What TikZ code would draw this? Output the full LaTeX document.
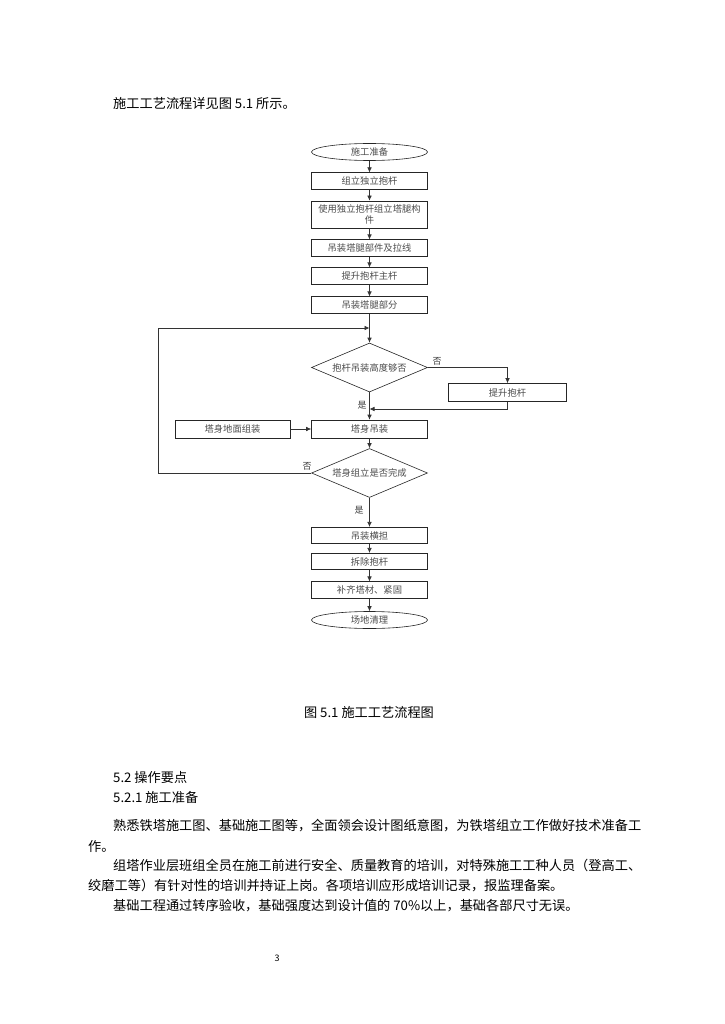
\documentclass[tikz,border=0pt]{standalone}
\usepackage{fontspec}
\newfontfamily\cjk{Noto Sans CJK SC}
\usetikzlibrary{shapes.geometric,arrows.meta}
\begin{document}
\begin{tikzpicture}[x=1pt,y=-1pt,
  every node/.style={font=\cjk},
  para/.style={anchor=west,inner sep=0pt,font=\cjk\fontsize{13.2}{15}\selectfont},
  box/.style={draw=black!85,line width=0.6pt,minimum width=116pt,minimum height=16.5pt,inner sep=0pt,text=black!70,font=\cjk\fontsize{9.3}{11}\selectfont,align=center},
  oval/.style={box,ellipse,minimum height=17pt},
  dia/.style={draw=black!85,line width=0.6pt,diamond,aspect=2.4,minimum width=116pt,minimum height=49pt,inner sep=0pt,text=black!70,font=\cjk\fontsize{9.3}{11}\selectfont},
  lbl/.style={inner sep=0pt,text=black!75,font=\cjk\fontsize{9}{11}\selectfont},
  arr/.style={line width=0.6pt,draw=black!80,-{Latex[length=5pt,width=4.5pt]}},
  ln/.style={line width=0.6pt,draw=black!80}]
\useasboundingbox (0,0) rectangle (724,1024);
\fill[white] (0,0) rectangle (724,1024);

\node[para] (t0) at (113,103) {施工工艺流程详见图 5.1 所示。};

% flowchart
\node[oval] (s0) at (369.5,152) {施工准备};
\node[box] (s1) at (369.5,181) {组立独立抱杆};
\node[box,minimum height=27pt] (s2) at (369.5,214.5) {使用独立抱杆组立塔腿构\\件};
\node[box] (s3) at (369.5,248) {吊装塔腿部件及拉线};
\node[box] (s4) at (369.5,276) {提升抱杆主杆};
\node[box] (s5) at (369.5,305) {吊装塔腿部分};
\coordinate (j1) at (369.5,328);
\node[dia] (d1) at (369.5,367.5) {抱杆吊装高度够否};
\node[box,minimum width=118pt,minimum height=18pt] (r1) at (507.5,392.5) {提升抱杆};
\coordinate (j2) at (369.5,409);
\node[box,minimum height=18pt] (s6) at (369.5,429) {塔身吊装};
\node[box,minimum width=115pt,minimum height=18pt] (l1) at (232.5,429) {塔身地面组装};
\node[dia] (d2) at (369.5,473) {塔身组立是否完成};
\coordinate (c1) at (158,473);
\coordinate (c2) at (158,328);
\node[box] (s7) at (369.5,535.5) {吊装横担};
\node[box] (s8) at (369.5,561.5) {拆除抱杆};
\node[box] (s9) at (369.5,590) {补齐塔材、紧固};
\node[oval] (s10) at (369.5,620) {场地清理};

\draw[arr] (s0) -- (s1);
\draw[arr] (s1) -- (s2);
\draw[arr] (s2) -- (s3);
\draw[arr] (s3) -- (s4);
\draw[arr] (s4) -- (s5);
\draw[arr] (s5) -- (d1);
\draw[arr] (d1.east) -| (r1.north);
\draw[arr] (r1.south) |- (j2);
\draw[arr] (d1.south) -- (s6);
\draw[arr] (l1) -- (s6);
\draw[arr] (s6) -- (d2);
\draw[arr] (d2.west) -- (c1) -- (c2) -- (j1);
\draw[arr] (d2.south) -- (s7);
\draw[arr] (s7) -- (s8);
\draw[arr] (s8) -- (s9);
\draw[arr] (s9) -- (s10);

\node[lbl] (n1) at (437,361) {否};
\node[lbl] (y1) at (362,405) {是};
\node[lbl] (n2) at (307,466) {否};
\node[lbl] (y2) at (359,510) {是};

\node[para,anchor=center] (cap) at (369,712) {图 5.1 施工工艺流程图};

\node[para] (p1) at (113,777) {5.2 操作要点};
\node[para] (p2) at (113,797) {5.2.1 施工准备};
\node[para] (p3) at (113,826) {熟悉铁塔施工图、基础施工图等，全面领会设计图纸意图，为铁塔组立工作做好技术准备工};
\node[para] (p4) at (88,846) {作。};
\node[para] (p5) at (113,866) {组塔作业层班组全员在施工前进行安全、质量教育的培训，对特殊施工工种人员（登高工、};
\node[para] (p6) at (88,886) {绞磨工等）有针对性的培训并持证上岗。各项培训应形成培训记录，报监理备案。};
\node[para] (p7) at (113,906) {基础工程通过转序验收，基础强度达到设计值的 70\%以上，基础各部尺寸无误。};
\node[inner sep=0pt,font=\cjk\fontsize{9}{11}\selectfont] (pg) at (277,958) {3};
\end{tikzpicture}
\end{document}
